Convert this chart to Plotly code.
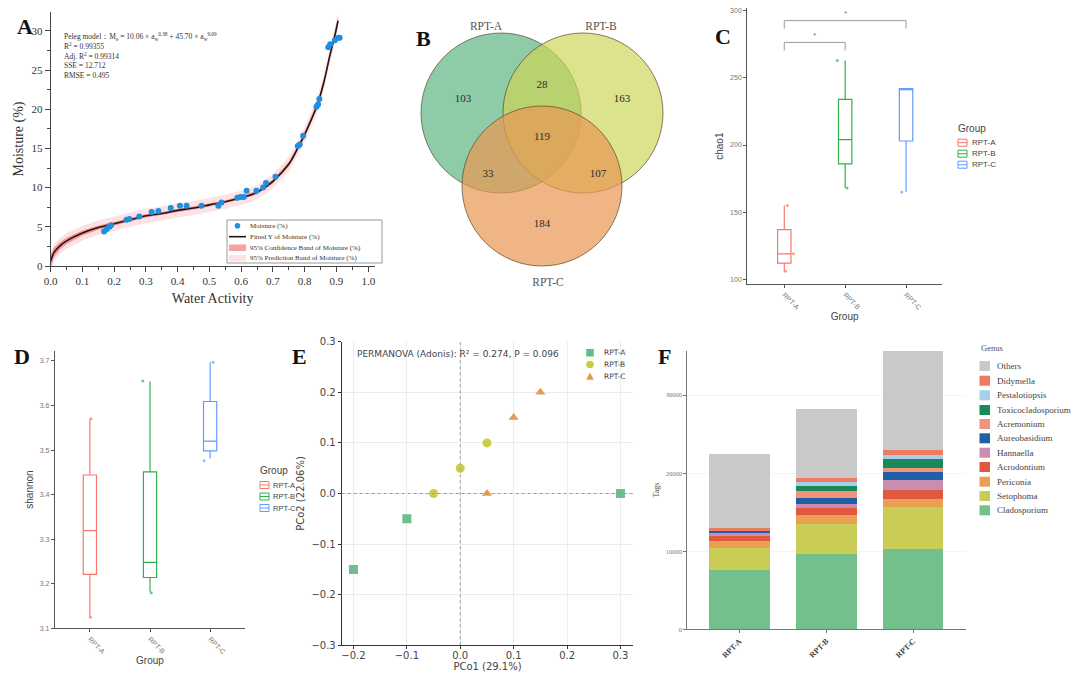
import plotly.graph_objects as go

# ──────────────────────────────────────────────
#  Panel A · moisture sorption isotherm (Peleg fit)
# ──────────────────────────────────────────────
aw_obs = [0.168, 0.176, 0.185, 0.19, 0.239, 0.248, 0.279, 0.318, 0.339, 0.378,
          0.407, 0.428, 0.475, 0.528, 0.538, 0.588, 0.598, 0.608, 0.617, 0.648,
          0.669, 0.678, 0.708, 0.778, 0.784, 0.795, 0.837, 0.842, 0.846, 0.874,
          0.88, 0.895, 0.906, 0.91]
moisture_obs = [4.4, 4.7, 5.0, 5.2, 5.9, 6.0, 6.3, 6.9, 7.0, 7.4,
                7.7, 7.7, 7.7, 7.7, 8.1, 8.7, 8.8, 8.8, 9.6, 9.6,
                10.0, 10.6, 11.4, 15.3, 15.5, 16.6, 20.3, 20.6, 21.3, 27.9,
                28.3, 28.8, 29.1, 29.1]

aw_fit = [0.0, 0.01, 0.03, 0.05, 0.1, 0.15, 0.2, 0.25, 0.3, 0.35, 0.4, 0.45,
          0.5, 0.55, 0.6, 0.65, 0.7, 0.75, 0.78, 0.8, 0.84, 0.86, 0.88, 0.895, 0.905]
moisture_fit = [0.6, 1.7, 2.6, 3.2, 4.2, 4.9, 5.4, 5.9, 6.4, 6.7, 7.1, 7.4,
                7.8, 8.2, 8.7, 9.4, 10.8, 13.0, 15.2, 16.8, 20.6, 23.4, 27.0, 29.4, 31.3]
conf_half = [0.9, 0.6, 0.45, 0.4, 0.32, 0.28, 0.25, 0.22, 0.2, 0.2, 0.2, 0.2,
             0.2, 0.2, 0.22, 0.25, 0.28, 0.3, 0.32, 0.33, 0.35, 0.38, 0.4, 0.42, 0.45]
pred_half = [1.2, 1.1, 1.0, 1.0, 0.95, 0.95, 0.9, 0.9, 0.9, 0.9, 0.9, 0.9,
             0.9, 0.9, 0.9, 0.9, 0.92, 0.95, 0.95, 0.95, 1.0, 1.0, 1.0, 1.05, 1.05]

# ──────────────────────────────────────────────
#  Panel B · Venn counts
# ──────────────────────────────────────────────
venn_sets = ["RPT-A", "RPT-B", "RPT-C"]
venn_regions = ["A", "AB", "B", "ABC", "AC", "BC", "C"]
venn_counts = [103, 28, 163, 119, 33, 107, 184]

# ──────────────────────────────────────────────
#  Panels C / D · alpha diversity
# ──────────────────────────────────────────────
groups = ["RPT-A", "RPT-B", "RPT-C"]

chao1_lower = [106, 168, 165]
chao1_q1 = [112, 186, 203]
chao1_median = [119, 204, 242]
chao1_q3 = [137, 234, 242]
chao1_upper = [155, 263, 242]
chao1_points = [[155, 119, 106], [263, 168], [165]]
chao1_sig = [("RPT-A", "RPT-B", 276.4, "*"), ("RPT-A", "RPT-C", 292.6, "*")]

shannon_lower = [3.125, 3.182, 3.481]
shannon_q1 = [3.221, 3.214, 3.498]
shannon_median = [3.319, 3.248, 3.520]
shannon_q3 = [3.444, 3.451, 3.609]
shannon_upper = [3.569, 3.654, 3.697]
shannon_points = [[3.57, 3.125], [3.655, 3.18], [3.697, 3.476]]

# ──────────────────────────────────────────────
#  Panel E · PCoA
# ──────────────────────────────────────────────
pco1_a = [-0.2, -0.1, 0.3]
pco2_a = [-0.15, -0.05, 0.0]
pco1_b = [-0.05, 0.0, 0.05]
pco2_b = [0.0, 0.05, 0.1]
pco1_c = [0.05, 0.1, 0.15]
pco2_c = [0.0, 0.15, 0.2]

# ──────────────────────────────────────────────
#  Panel F · genus composition (tags), bottom → top
# ──────────────────────────────────────────────
genera = ["Cladosporium", "Setophoma", "Periconia", "Acrodontium", "Hannaella",
          "Aureobasidium", "Acremonium", "Toxicocladosporium", "Pestalotiopsis",
          "Didymella", "Others"]
tags_a = [7600, 2800, 940, 640, 340, 400, 0, 0, 0, 200, 9500]
tags_b = [9600, 3900, 1150, 860, 520, 760, 980, 640, 510, 440, 8840]
tags_c = [10300, 5420, 950, 1190, 1280, 990, 510, 1150, 550, 640, 12720]

# ──────────────────────────────────────────────
#  Styling
# ──────────────────────────────────────────────
W, H = 1080, 680
SERIF = "Liberation Serif, Times New Roman, serif"
SANS = "Liberation Sans, Arial, sans-serif"
MPL = "DejaVu Sans, sans-serif"

group_colors = ["#f8766d", "#2fb14a", "#619cff"]
pcoa_colors = ["#66bb88", "#c5cc3d", "#e3994a"]
pcoa_symbols = ["square", "circle", "triangle-up"]
genus_colors = ["#74c08d", "#c9cc55", "#e9a052", "#e2573f", "#c98db3",
                "#1f5fa6", "#f4937a", "#17895a", "#a8cfea", "#ef7a62", "#c9c9c9"]
venn_fill = ["rgba(88,178,125,0.68)", "rgba(203,214,86,0.68)", "rgba(233,152,84,0.72)"]
# Venn circle centres / label spots, in panel pixels
venn_centres = [(501, 113), (583, 113), (542, 186)]
venn_radius = 80
venn_set_xy = [(486, 27), (601, 27), (548, 283)]
venn_region_xy = [(463, 99), (542, 85), (622, 99), (542, 137), (488, 174), (598, 174), (542, 224)]


def dom_x(a, b):
    return [a / W, b / W]


def dom_y(top, bottom):
    return [1 - bottom / H, 1 - top / H]


# ──────────────────────────────────────────────
#  Hand-drawn legends (plotly rows are too tall for this layout)
# ──────────────────────────────────────────────
shapes, annotations = [], []


def pshape(kind, x0, y0, x1, y1, **kw):
    shapes.append(dict(type=kind, xref="paper", yref="paper",
                       x0=x0 / W, x1=x1 / W, y0=1 - y0 / H, y1=1 - y1 / H, **kw))


def ptext(x, y, text, font, xanchor="left"):
    annotations.append(dict(x=x / W, y=1 - y / H, xref="paper", yref="paper", xanchor=xanchor,
                            yanchor="middle", text=text, showarrow=False, font=font))


def psymbol(symbol, cx, cy, r, color):
    if symbol == "circle":
        pshape("circle", cx - r, cy - r, cx + r, cy + r, fillcolor=color, line=dict(width=0))
    elif symbol == "square":
        pshape("rect", cx - r, cy - r, cx + r, cy + r, fillcolor=color, line=dict(width=0))
    else:
        pts = [(cx, cy - r * 1.1), (cx + r, cy + r * 0.8), (cx - r, cy + r * 0.8)]
        path = "M " + " L ".join(f"{x / W},{1 - y / H}" for x, y in pts) + " Z"
        shapes.append(dict(type="path", xref="paper", yref="paper", path=path,
                           fillcolor=color, line=dict(width=0)))


def box_legend(x, y_title, y_items, text_x, font_size):
    ptext(x - 2, y_title, "Group", dict(family=SANS, size=10, color="#444"))
    for g, col, yy in zip(groups, group_colors, y_items):
        pshape("rect", x, yy - 3.5, x + 9, yy + 3.5, line=dict(color=col, width=1), fillcolor="white")
        pshape("line", x, yy, x + 9, yy, line=dict(color=col, width=1))
        ptext(text_x, yy, g, dict(family=SANS, size=font_size, color="#444"))


fig = go.Figure()

# ── A ──
pred_up = [m + h for m, h in zip(moisture_fit, pred_half)]
pred_lo = [m - h for m, h in zip(moisture_fit, pred_half)]
conf_up = [m + h for m, h in zip(moisture_fit, conf_half)]
conf_lo = [m - h for m, h in zip(moisture_fit, conf_half)]
band_pred = "rgba(248,190,190,0.45)"
band_conf = "rgba(236,100,100,0.6)"
fig.add_trace(go.Scatter(x=aw_fit + aw_fit[::-1], y=pred_up + pred_lo[::-1], fill="toself",
                         fillcolor=band_pred, line=dict(width=0), hoverinfo="skip",
                         name="95% Prediction Band of Moisture (%)", xaxis="x", yaxis="y"))
fig.add_trace(go.Scatter(x=aw_fit + aw_fit[::-1], y=conf_up + conf_lo[::-1], fill="toself",
                         fillcolor=band_conf, line=dict(width=0), hoverinfo="skip",
                         name="95% Confidence Band of Moisture (%)", xaxis="x", yaxis="y"))
fig.add_trace(go.Scatter(x=aw_fit, y=moisture_fit, mode="lines",
                         line=dict(color="#2a1212", width=1.6, shape="spline"),
                         name="Fitted Y of Moisture (%)", xaxis="x", yaxis="y"))
fig.add_trace(go.Scatter(x=aw_obs, y=moisture_obs, mode="markers", marker=dict(color="#1f8fe0", size=6),
                         name="Moisture (%)", xaxis="x", yaxis="y"))

pshape("rect", 227, 220, 382, 263, line=dict(color="#999", width=1), fillcolor="white")
legend_a_font = dict(family=SERIF, size=7, color="#333")
psymbol("circle", 237.5, 225.7, 2.8, "#1f8fe0")
pshape("line", 229, 236.7, 246, 236.7, line=dict(color="#2a1212", width=1.6))
pshape("rect", 229, 244.5, 246, 251, fillcolor=band_conf, line=dict(width=0))
pshape("rect", 229, 255, 246, 261.5, fillcolor=band_pred, line=dict(width=0))
for yy, txt in zip([225.7, 236.7, 247.7, 258.3],
                   ["Moisture (%)", "Fitted Y of Moisture (%)",
                    "95% Confidence Band of Moisture (%)", "95% Prediction Band of Moisture (%)"]):
    ptext(248, yy, txt, legend_a_font)

# ── B ── (counts as a text trace, circles as shapes)
fig.add_trace(go.Scatter(x=[p[0] for p in venn_region_xy], y=[p[1] for p in venn_region_xy],
                         mode="text", text=[str(c) for c in venn_counts],
                         textfont=dict(family=SERIF, size=11, color="#2b2b2b"),
                         hoverinfo="skip", xaxis="x2", yaxis="y2"))
fig.add_trace(go.Scatter(x=[p[0] for p in venn_set_xy], y=[p[1] for p in venn_set_xy],
                         mode="text", text=venn_sets,
                         textfont=dict(family=SERIF, size=11.5, color="#555"),
                         hoverinfo="skip", xaxis="x2", yaxis="y2"))
for (cx, cy), fill in zip(venn_centres, venn_fill):
    shapes.append(dict(type="circle", xref="x2", yref="y2", x0=cx - venn_radius, x1=cx + venn_radius,
                       y0=cy - venn_radius, y1=cy + venn_radius, fillcolor=fill,
                       line=dict(color="rgba(90,70,50,0.7)", width=1), layer="below"))

# ── C / D ── box plots from the read quartiles
jitter_c = [[0.05, 0.15, 0.02], [-0.13, 0.03], [-0.07]]
jitter_d = [[0.02, 0.01], [-0.12, 0.02], [0.05, -0.1]]
for i, g in enumerate(groups):
    fig.add_trace(go.Box(x=[i], q1=[chao1_q1[i]], median=[chao1_median[i]], q3=[chao1_q3[i]],
                         lowerfence=[chao1_lower[i]], upperfence=[chao1_upper[i]], width=0.22,
                         whiskerwidth=0, line=dict(color=group_colors[i], width=1.2),
                         fillcolor="rgba(255,255,255,0)", boxpoints=False, name=g,
                         xaxis="x3", yaxis="y3", hoverinfo="skip"))
    fig.add_trace(go.Scatter(x=[i + j for j in jitter_c[i]], y=chao1_points[i], mode="markers",
                             marker=dict(color=group_colors[i], size=3, opacity=0.7),
                             xaxis="x3", yaxis="y3"))
    fig.add_trace(go.Box(x=[i], q1=[shannon_q1[i]], median=[shannon_median[i]], q3=[shannon_q3[i]],
                         lowerfence=[shannon_lower[i]], upperfence=[shannon_upper[i]], width=0.22,
                         whiskerwidth=0, line=dict(color=group_colors[i], width=1.2),
                         fillcolor="rgba(255,255,255,0)", boxpoints=False, name=g,
                         xaxis="x4", yaxis="y4", hoverinfo="skip"))
    fig.add_trace(go.Scatter(x=[i + j for j in jitter_d[i]], y=shannon_points[i], mode="markers",
                             marker=dict(color=group_colors[i], size=3, opacity=0.7),
                             xaxis="x4", yaxis="y4"))

for g1, g2, ybar, label in chao1_sig:
    i1, i2 = groups.index(g1), groups.index(g2)
    fig.add_trace(go.Scatter(x=[i1, i1, i2, i2], y=[ybar - 6, ybar, ybar, ybar - 6], mode="lines",
                             line=dict(color="#9a9a9a", width=1), xaxis="x3", yaxis="y3", hoverinfo="skip"))
    annotations.append(dict(x=(i1 + i2) / 2, y=ybar + 0.5, xref="x3", yref="y3", text=label,
                            showarrow=False, yanchor="bottom", font=dict(family=SANS, size=8, color="#777")))

box_legend(958, 128, [142.7, 153.7, 164.7], 970, 8)
box_legend(260, 470, [485, 496.5, 508], 271, 7.5)

# ── E ──
pcoa = [(pco1_a, pco2_a), (pco1_b, pco2_b), (pco1_c, pco2_c)]
for (xs, ys), g, col, sym in zip(pcoa, groups, pcoa_colors, pcoa_symbols):
    fig.add_trace(go.Scatter(x=xs, y=ys, mode="markers", name=g,
                             marker=dict(color=col, size=9, symbol=sym, opacity=0.95),
                             xaxis="x5", yaxis="y5"))
for g, col, sym, yy in zip(groups, pcoa_colors, pcoa_symbols, [352.7, 364.5, 376.7]):
    psymbol(sym, 590, yy, 3.8, col)
    ptext(602, yy, g, dict(family=MPL, size=7.5, color="#444"))
shapes.append(dict(type="line", xref="x5", yref="y5 domain", x0=0, x1=0, y0=0, y1=1,
                   line=dict(color="#9a9a9a", width=1, dash="dot")))
shapes.append(dict(type="line", xref="x5 domain", yref="y5", x0=0, x1=1, y0=0, y1=0,
                   line=dict(color="#9a9a9a", width=1, dash="dot")))
ptext(355, 354, "PERMANOVA (Adonis): R² = 0.274, P = 0.096", dict(family=MPL, size=9, color="#444"))

# ── F ──
for k, genus in enumerate(genera):
    fig.add_trace(go.Bar(x=groups, y=[tags_a[k], tags_b[k], tags_c[k]], name=genus, width=0.7,
                         marker=dict(color=genus_colors[k], line=dict(width=0)),
                         xaxis="x6", yaxis="y6"))
ptext(979, 347.7, "Genus", dict(family=SERIF, size=8.5, color="#555"))
genus_rows = [366, 380.7, 395.3, 410, 424, 438.3, 452.7, 467, 481.7, 496, 510.3]
for genus, col, yy in zip(genera[::-1], genus_colors[::-1], genus_rows):
    pshape("rect", 979.5, yy - 5, 990, yy + 5, fillcolor=col, line=dict(width=0))
    ptext(995, yy, genus, dict(family=SERIF, size=9, color="#444"))

# ── panel letters + fit statistics ──
for t, x, y in [("A", 25, 27), ("B", 423, 38), ("C", 723, 36), ("D", 22, 356), ("E", 299, 356), ("F", 664, 356)]:
    ptext(x, y, f"<b>{t}</b>", dict(family=SERIF, size=22, color="#111"), xanchor="center")
annotations.append(dict(
    x=62 / W, y=1 - 29 / H, xref="paper", yref="paper", xanchor="left", yanchor="top", align="left",
    showarrow=False, font=dict(family=SERIF, size=7.5, color="#333"),
    text="Peleg model：M<sub>e</sub> = 10.06 × a<sub>w</sub><sup>0.38</sup> + 45.70 × a<sub>w</sub><sup>9.09</sup>"
         "<br>R<sup>2</sup> = 0.99355<br>Adj. R<sup>2</sup> = 0.99314<br>SSE = 12.712<br>RMSE = 0.495"))

# ──────────────────────────────────────────────
#  Layout
# ──────────────────────────────────────────────
ggplot_y = dict(showline=True, linecolor="#555", linewidth=1.2, ticks="outside", ticklen=3,
                tickcolor="#555", tickfont=dict(family=SANS, size=7, color="#777"),
                showgrid=False, zeroline=False, automargin=False)
ggplot_x = dict(ggplot_y, tickvals=[0, 1, 2], ticktext=groups, tickangle=45)
serif_axis = dict(showline=True, linecolor="#444", linewidth=1.2, ticks="outside", ticklen=5,
                  tickcolor="#444", tickfont=dict(family=SERIF, size=11, color="#333"),
                  showgrid=False, zeroline=False, automargin=False)
mpl_axis = dict(showline=True, linecolor="#333", linewidth=1, ticks="outside", ticklen=3, tickcolor="#333",
                tickfont=dict(family=MPL, size=10, color="#444"), showgrid=True, gridcolor="#ececec",
                zeroline=False, automargin=False, dtick=0.1, tickformat=".1f")
f_axis = dict(showline=True, linecolor="#777", linewidth=1.2, ticks="outside", ticklen=3, tickcolor="#777",
              zeroline=False, automargin=False)

fig.update_layout(
    width=W, height=H, margin=dict(l=0, r=0, t=0, b=0),
    paper_bgcolor="white", plot_bgcolor="white", barmode="stack", showlegend=False,
    shapes=shapes, annotations=annotations,
    # A
    xaxis=dict(serif_axis, domain=dom_x(50.7, 374.6), range=[0, 1.02], dtick=0.1, tickformat=".1f",
               anchor="y", minor=dict(ticks="outside", dtick=0.05, ticklen=3, tickcolor="#444"),
               title=dict(text="Water Activity", font=dict(family=SERIF, size=14, color="#333"), standoff=6)),
    yaxis=dict(serif_axis, domain=dom_y(12, 266), range=[0, 32.4], dtick=5, anchor="x",
               minor=dict(ticks="outside", dtick=2.5, ticklen=3, tickcolor="#444"),
               title=dict(text="Moisture (%)", font=dict(family=SERIF, size=14, color="#333"), standoff=4)),
    # B
    xaxis2=dict(domain=dom_x(405, 680), range=[405, 680], visible=False, anchor="y2"),
    yaxis2=dict(domain=dom_y(5, 300), range=[300, 5], visible=False, anchor="x2"),
    # C
    xaxis3=dict(ggplot_x, domain=dom_x(747.3, 942), range=[-0.607, 2.59], anchor="y3",
                title=dict(text="Group", font=dict(family=SANS, size=10, color="#444"), standoff=2)),
    yaxis3=dict(ggplot_y, domain=dom_y(8.3, 284), range=[96.5, 301.8], dtick=50, anchor="x3",
                title=dict(text="chao1", font=dict(family=SANS, size=10, color="#444"), standoff=4)),
    # D
    xaxis4=dict(ggplot_x, domain=dom_x(55, 245), range=[-0.58, 2.58], anchor="y4",
                title=dict(text="Group", font=dict(family=SANS, size=10, color="#444"), standoff=2)),
    yaxis4=dict(ggplot_y, domain=dom_y(350.7, 628.3), range=[3.1, 3.723], dtick=0.1, tickformat=".1f",
                anchor="x4", title=dict(text="shannon", font=dict(family=SANS, size=10, color="#444"), standoff=4)),
    # E
    xaxis5=dict(mpl_axis, domain=dom_x(341.7, 633.3), range=[-0.222, 0.324], anchor="y5",
                ticklabelstandoff=-2,
                title=dict(text="PCo1 (29.1%)", font=dict(family=MPL, size=10, color="#444"), standoff=0)),
    yaxis5=dict(mpl_axis, domain=dom_y(341.7, 645.3), range=[-0.3, 0.3], anchor="x5",
                title=dict(text="PCo2 (22.06%)", font=dict(family=MPL, size=10, color="#444"), standoff=4)),
    # F
    xaxis6=dict(f_axis, domain=dom_x(687.3, 966), range=[-0.6, 2.61], tickangle=-45, anchor="y6",
                tickfont=dict(family=SERIF, size=8, color="#444"), showgrid=False,
                tickvals=groups, ticktext=[f"<b>{g}</b>" for g in groups]),
    yaxis6=dict(f_axis, domain=dom_y(350.7, 629.3), range=[0, 35700], tickvals=[0, 10000, 20000, 30000],
                tickformat="d", tickfont=dict(family=SERIF, size=6.5, color="#777"),
                showgrid=True, gridcolor="#f4f4f4", anchor="x6",
                title=dict(text="Tags", font=dict(family=SERIF, size=8, color="#555"), standoff=4)),
)

# the page's default 8px body margin would shift the whole figure
fig.write_html("out.html", config={"displayModeBar": False},
               post_script="document.body.style.margin='0px';")
